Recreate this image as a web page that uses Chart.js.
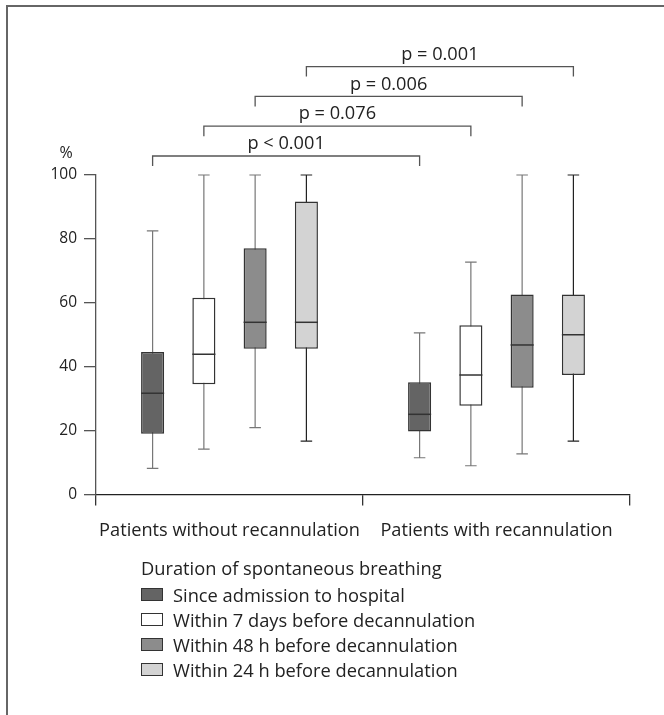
<!DOCTYPE html>
<html>
<head>
<meta charset="utf-8">
<script src="https://cdn.jsdelivr.net/npm/chart.js@4.4.1/dist/chart.umd.min.js"></script>
<style>
  html, body { margin: 0; padding: 0; background: #fff; }
  #wrap { position: relative; width: 664px; height: 715px; overflow: hidden; font-family: "Open Sans", sans-serif; color: #222; }
  #frame { position: absolute; left: 6px; top: 5px; right: -10px; bottom: -10px; border-left: 2px solid #666; border-top: 2px solid #666; }
  #chart { position: absolute; left: 0; top: 0; }
  #legend { position: absolute; left: 141px; top: 555px; font-size: 18.3px; }
  #legend .title { height: 25px; line-height: 25px; margin-bottom: 2px; }
  #legend .item { height: 25px; line-height: 25px; display: flex; align-items: center; }
  #legend .sw { width: 20px; height: 11px; border: 1.5px solid #333; margin-right: 10px; }
</style>
</head>
<body>
<div id="wrap">
  <div id="frame"></div>
  <canvas id="chart" width="664" height="715"></canvas>
  <div id="legend"></div>
</div>
<script>
// Категории и ряды
const categories = ["Patients without recannulation", "Patients with recannulation"];
const seriesLabels = [
  "Since admission to hospital",
  "Within 7 days before decannulation",
  "Within 48 h before decannulation",
  "Within 24 h before decannulation",
];
const legendTitle = "Duration of spontaneous breathing";

// [ряд][категория]
const whiskerLow = [[8.2, 11.5], [14.2, 9.0], [20.9, 12.7], [16.7, 16.7]];
const quartile1 = [[19.0, 19.7], [34.5, 27.8], [45.6, 33.4], [45.6, 37.4]];
const medians = [[31.7, 25.1], [43.9, 37.4], [53.9, 46.8], [53.9, 50.0]];
const quartile3 = [[44.6, 35.1], [61.6, 53.0], [77.1, 62.6], [91.7, 62.6]];
const whiskerHigh = [[82.5, 50.6], [100, 72.7], [100, 100], [100, 100]];

const yTicks = [0, 20, 40, 60, 80, 100];
const pValues = ["p < 0.001", "p = 0.076", "p = 0.006", "p = 0.001"];

const fills = ["#646464", "#ffffff", "#8c8c8c", "#d3d3d3"];
const whiskerColors = ["#777777", "#777777", "#777777", "#222222"];

// Усы, медианы, скобки с p-значениями
const boxPlotExtras = {
  id: "boxPlotExtras",
  beforeDatasetsDraw(chart) {
    const ctx = chart.ctx;
    const y = chart.scales.y;
    ctx.save();
    chart.data.datasets.forEach((ds, i) => {
      chart.getDatasetMeta(i).data.forEach((bar, j) => {
        const cap = bar.width * 0.5;
        const lo = y.getPixelForValue(whiskerLow[i][j]);
        const hi = y.getPixelForValue(whiskerHigh[i][j]);
        ctx.strokeStyle = whiskerColors[i];
        ctx.lineWidth = 1.2;
        ctx.beginPath();
        ctx.moveTo(bar.x, lo);
        ctx.lineTo(bar.x, hi);
        ctx.moveTo(bar.x - cap / 2, lo);
        ctx.lineTo(bar.x + cap / 2, lo);
        ctx.moveTo(bar.x - cap / 2, hi);
        ctx.lineTo(bar.x + cap / 2, hi);
        ctx.stroke();
      });
    });
    ctx.restore();
  },
  afterDatasetsDraw(chart) {
    const ctx = chart.ctx;
    const y = chart.scales.y;
    const area = chart.chartArea;
    ctx.save();
    // медианы
    chart.data.datasets.forEach((ds, i) => {
      chart.getDatasetMeta(i).data.forEach((bar, j) => {
        const py = y.getPixelForValue(medians[i][j]);
        ctx.strokeStyle = "#333";
        ctx.lineWidth = 1.5;
        ctx.beginPath();
        ctx.moveTo(bar.x - bar.width / 2, py);
        ctx.lineTo(bar.x + bar.width / 2, py);
        ctx.stroke();
      });
    });
    // скобки
    ctx.font = "18.2px 'Open Sans'";
    ctx.fillStyle = "#222";
    ctx.textAlign = "center";
    ctx.textBaseline = "middle";
    pValues.forEach((label, i) => {
      const meta = chart.getDatasetMeta(i);
      const x0 = meta.data[0].x;
      const x1 = meta.data[1].x;
      const by = area.top - 19 - i * 29.8;
      ctx.strokeStyle = "#555";
      ctx.lineWidth = 1.3;
      ctx.beginPath();
      ctx.moveTo(x0, by + 10);
      ctx.lineTo(x0, by);
      ctx.lineTo(x1, by);
      ctx.lineTo(x1, by + 10);
      ctx.stroke();
      ctx.fillText(label, (x0 + x1) / 2, by - 12);
    });
    ctx.font = "16px 'Open Sans'";
    ctx.fillText("%", area.left - 30, area.top - 22);
    ctx.restore();
  },
};

const ctx = document.getElementById("chart").getContext("2d");

const myChart = new Chart(ctx, {
  type: "bar",
  data: {
    labels: categories,
    datasets: seriesLabels.map((label, i) => ({
      label: label,
      data: categories.map((c, j) => [quartile1[i][j], quartile3[i][j]]),
      backgroundColor: fills[i],
      borderColor: "#333",
      borderWidth: 1.5,
      borderSkipped: false,
      categoryPercentage: 0.768,
      barPercentage: 0.45,
    })),
  },
  options: {
    responsive: false,
    animation: false,
    layout: {
      padding: { left: 0, top: 175, right: 34, bottom: 160.5 },
    },
    scales: {
      x: {
        afterFit(scale) {
          scale.height = 60;
          scale.paddingLeft = 0;
          scale.paddingRight = 0;
        },
        grid: {
          offset: true,
          drawOnChartArea: false,
          tickLength: 11,
          color: "#333",
          lineWidth: 1.3,
        },
        border: { display: true, color: "#222", width: 1.3 },
        ticks: {
          padding: 14,
          color: "#222",
          autoSkip: false,
          minRotation: 0,
          maxRotation: 0,
          font: { family: "Open Sans", size: 18.2 },
        },
      },
      y: {
        min: 0,
        max: 100,
        afterFit(scale) {
          scale.width = 96;
        },
        afterBuildTicks(scale) {
          scale.ticks = yTicks.map((v) => ({ value: v }));
        },
        grid: {
          drawOnChartArea: false,
          tickLength: 12,
          color: "#555",
          lineWidth: 1.3,
        },
        border: { display: true, color: "#555", width: 1.3 },
        ticks: {
          padding: 7,
          color: "#222",
          font: { family: "Open Sans", size: 15.5 },
        },
      },
    },
    plugins: {
      legend: { display: false },
      tooltip: { enabled: false },
    },
  },
  plugins: [boxPlotExtras],
});

// Легенда
const legendEl = document.getElementById("legend");
const titleEl = document.createElement("div");
titleEl.className = "title";
titleEl.textContent = legendTitle;
legendEl.appendChild(titleEl);
seriesLabels.forEach((label, i) => {
  const item = document.createElement("div");
  item.className = "item";
  const sw = document.createElement("span");
  sw.className = "sw";
  sw.style.background = fills[i];
  const txt = document.createElement("span");
  txt.textContent = label;
  item.appendChild(sw);
  item.appendChild(txt);
  legendEl.appendChild(item);
});
</script>
</body>
</html>
